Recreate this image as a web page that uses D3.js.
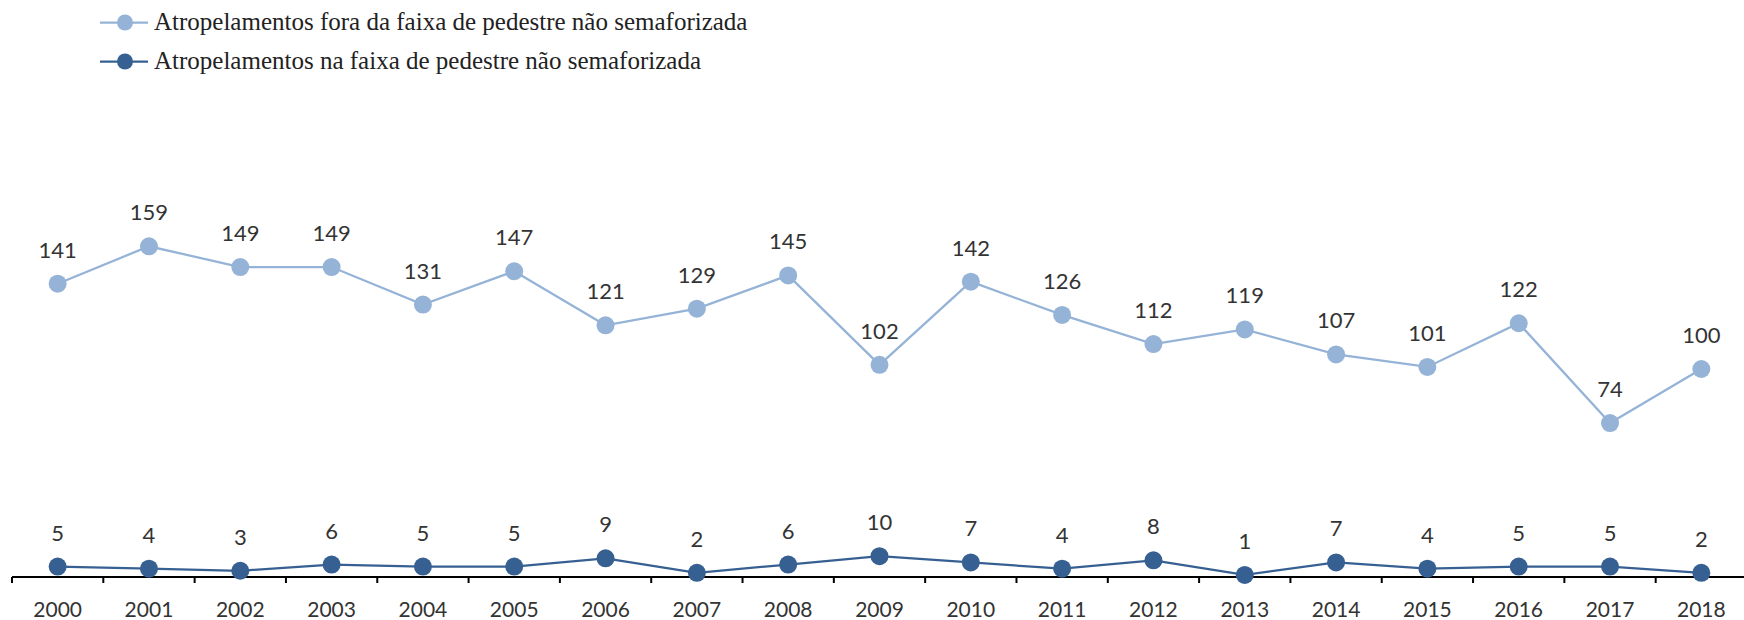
<!DOCTYPE html>
<html>
<head>
<meta charset="utf-8">
<script src="https://cdn.jsdelivr.net/npm/d3@7"></script>
<style>
body { margin: 0; background: #fff; }
svg { display: block; }
</style>
</head>
<body>
<svg id="mainSvg" width="1744" height="620"></svg>
<script>
var years = ["2000","2001","2002","2003","2004","2005","2006","2007","2008","2009","2010","2011","2012","2013","2014","2015","2016","2017","2018"];
var foraFaixa = [141,159,149,149,131,147,121,129,145,102,142,126,112,119,107,101,122,74,100];
var naFaixa = [5,4,3,6,5,5,9,2,6,10,7,4,8,1,7,4,5,5,2];
var seriesNames = ["Atropelamentos fora da faixa de pedestre não semaforizada", "Atropelamentos na faixa de pedestre não semaforizada"];
var seriesColors = ["#95b3d7", "#376092"];

var svg = d3.select("#mainSvg");
var baseY = 577;
var x = d3.scaleBand().domain(years).range([12, 1747]);
var y = d3.scaleLinear().domain([0, 260]).range([577, 577 - 260 * 2.08]);

// axis
svg.append("line").attr("x1", 12).attr("x2", 1744).attr("y1", baseY).attr("y2", baseY)
	.attr("stroke", "#000").attr("stroke-width", 2);
var edges = years.map(function(d) { return x(d); });
svg.selectAll(".tick").data(edges).enter().append("line").attr("class", "tick")
	.attr("x1", function(d) { return d; }).attr("x2", function(d) { return d; })
	.attr("y1", baseY).attr("y2", baseY + 6)
	.attr("stroke", "#000").attr("stroke-width", 2);
svg.selectAll(".year").data(years).enter().append("text").attr("class", "year")
	.attr("x", function(d) { return x(d) + x.bandwidth() / 2; })
	.attr("y", 617)
	.attr("text-anchor", "middle")
	.attr("font-family", "Lato, sans-serif").attr("font-size", "21px")
	.attr("fill", "#333")
	.text(function(d) { return d; });

var allSeries = [foraFaixa, naFaixa];
var line = d3.line()
	.x(function(d, i) { return x(years[i]) + x.bandwidth() / 2; })
	.y(function(d) { return y(d); });

allSeries.forEach(function(vals, s) {
	var g = svg.append("g");
	g.append("path").datum(vals).attr("d", line)
		.attr("fill", "none").attr("stroke", seriesColors[s]).attr("stroke-width", 2.25);
	g.selectAll("circle").data(vals).enter().append("circle")
		.attr("cx", function(d, i) { return x(years[i]) + x.bandwidth() / 2; })
		.attr("cy", function(d) { return y(d); })
		.attr("r", 9)
		.attr("fill", seriesColors[s]);
	g.selectAll("text").data(vals).enter().append("text")
		.attr("x", function(d, i) { return x(years[i]) + x.bandwidth() / 2; })
		.attr("y", function(d) { return y(d) - 26; })
		.attr("text-anchor", "middle")
		.attr("font-family", "Lato, sans-serif").attr("font-size", "22px")
		.attr("fill", "#333")
		.text(function(d) { return d; });
});

// legend
var legY = [22.5, 61.5];
seriesNames.forEach(function(name, s) {
	var lg = svg.append("g");
	lg.append("line").attr("x1", 100).attr("x2", 148).attr("y1", legY[s]).attr("y2", legY[s])
		.attr("stroke", seriesColors[s]).attr("stroke-width", 2.25);
	lg.append("circle").attr("cx", 125).attr("cy", legY[s]).attr("r", 8).attr("fill", seriesColors[s]);
	lg.append("text").attr("x", 154).attr("y", legY[s] + 7.5)
		.attr("font-family", "'Liberation Serif', 'Times New Roman', serif").attr("font-size", "25px")
		.attr("fill", "#222")
		.text(name);
});
</script>
</body>
</html>
